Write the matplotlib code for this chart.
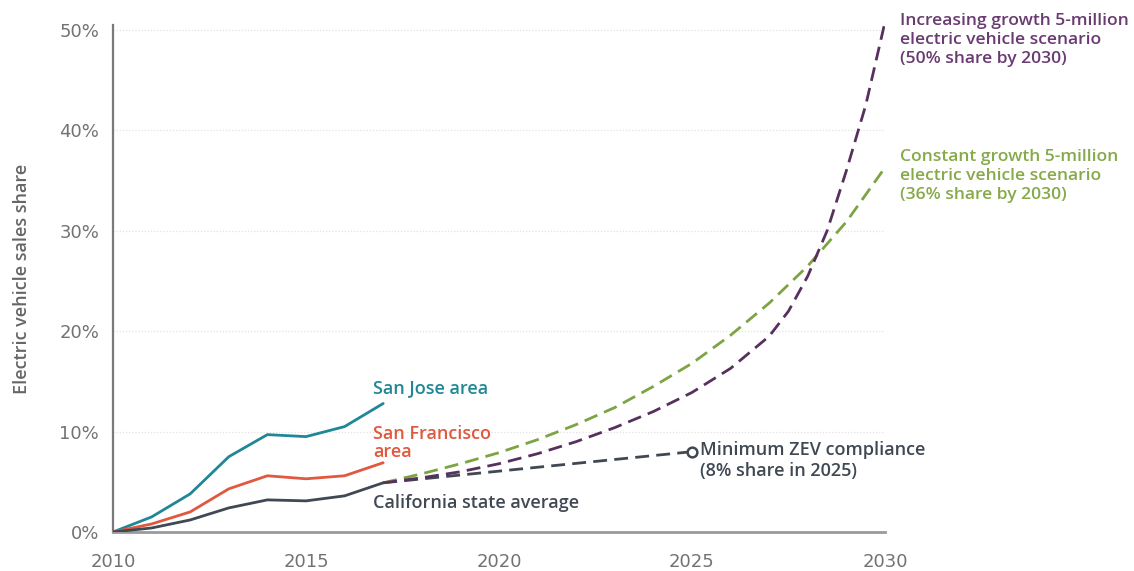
import matplotlib
matplotlib.use("Agg")
import matplotlib.pyplot as plt
from matplotlib.ticker import FuncFormatter

plt.rcParams["font.family"] = ["Open Sans", "DejaVu Sans"]

# Historical electric vehicle sales share (%)
hist_years = [2010, 2011, 2012, 2013, 2014, 2015, 2016, 2017]
san_jose = [0.0, 1.5, 3.8, 7.5, 9.7, 9.5, 10.5, 12.8]
san_francisco = [0.0, 0.8, 2.0, 4.3, 5.6, 5.3, 5.6, 6.9]
california = [0.0, 0.4, 1.2, 2.4, 3.2, 3.1, 3.6, 4.9]

# Minimum ZEV compliance path
zev_years = [2017, 2025]
zev_share = [4.9, 8.0]

# Constant growth 5-million scenario
const_years = [2017, 2018, 2019, 2020, 2021, 2022, 2023, 2024, 2025, 2026,
               2027, 2028, 2029, 2030]
const_share = [4.9, 5.8, 6.8, 7.9, 9.2, 10.7, 12.4, 14.5, 16.8, 19.6,
               22.8, 26.5, 30.9, 36.3]

# Increasing growth 5-million scenario
incr_years = [2017, 2018, 2019, 2020, 2021, 2022, 2023, 2024, 2025, 2026,
              2027, 2027.5, 2028, 2028.5, 2029, 2029.5, 2030]
incr_share = [4.9, 5.4, 6.0, 6.8, 7.8, 9.0, 10.4, 12.0, 13.9, 16.3,
              19.5, 22.0, 25.5, 30.0, 36.0, 42.5, 50.8]

x_ticks = [2010, 2015, 2020, 2025, 2030]
y_ticks = [0, 10, 20, 30, 40, 50]

C_TEAL = "#1f8795"
C_RED = "#e0583d"
C_DARK = "#3f4853"
C_PURPLE = "#57305e"
C_GREEN = "#7da443"
C_TICK = "#727272"

fig = plt.figure(figsize=(11.34, 5.71), dpi=100)
ax = fig.add_axes([113 / 1134, 1 - 532 / 571, (885 - 113) / 1134, (532 - 25) / 571])

ax.set_xlim(2010, 2030)
ax.set_ylim(0, 50.5)

for g in [10, 20, 30, 40, 50]:
    ax.axhline(g, color="#e2e2e2", lw=0.9, ls=(0, (1, 1.5)), zorder=0)

dash = (0, (5, 2.6))
ax.plot(zev_years, zev_share, color=C_DARK, lw=2.0, ls=dash, zorder=3)
ax.plot(const_years, const_share, color=C_GREEN, lw=2.0, ls=dash, zorder=3)
ax.plot(incr_years, incr_share, color=C_PURPLE, lw=2.0, ls=dash, zorder=3)
ax.plot([zev_years[-1]], [zev_share[-1]], marker="o", ms=7, mfc="white",
        mec=C_DARK, mew=1.8, zorder=5)

ax.plot(hist_years, san_jose, color=C_TEAL, lw=2.0, zorder=4, solid_capstyle="round")
ax.plot(hist_years, san_francisco, color=C_RED, lw=2.0, zorder=4, solid_capstyle="round")
ax.plot(hist_years, california, color=C_DARK, lw=2.0, zorder=4, solid_capstyle="round")

for side in ["top", "right"]:
    ax.spines[side].set_visible(False)
ax.spines["left"].set_color("#7a7a7a")
ax.spines["left"].set_linewidth(1.6)
ax.spines["bottom"].set_color("#9a9a9a")
ax.spines["bottom"].set_linewidth(2.0)

ax.set_xticks(x_ticks)
ax.set_yticks(y_ticks)
ax.yaxis.set_major_formatter(FuncFormatter(lambda v, p: f"{int(v)}%"))
ax.tick_params(axis="both", length=0, labelsize=13, labelcolor=C_TICK)
for lab in ax.get_xticklabels() + ax.get_yticklabels():
    lab.set_family("DejaVu Sans")
ax.tick_params(axis="y", pad=10)
ax.tick_params(axis="x", pad=15)

ax.set_ylabel("Electric vehicle sales share", fontsize=13, color="#666666",
              fontweight="semibold", labelpad=20)

txt = dict(fontsize=13, fontweight="semibold", va="center", ha="left",
           linespacing=1.25, clip_on=False)
ax.text(2016.74, 14.3, "San Jose area", color=C_TEAL, **txt)
ax.text(2016.74, 8.85, "San Francisco\narea", color=C_RED,
        **{**txt, "linespacing": 0.95})
ax.text(2016.74, 2.85, "California state average", color=C_DARK, **txt)
ax.text(2025.22, 7.1, "Minimum ZEV compliance\n(8% share in 2025)", color=C_DARK, **txt)
ax.text(2030.4, 49.0, "Increasing growth 5-million\nelectric vehicle scenario\n(50% share by 2030)",
        color="#6a3b72", **{**txt, "fontsize": 12.6})
ax.text(2030.4, 35.5, "Constant growth 5-million\nelectric vehicle scenario\n(36% share by 2030)",
        color="#86aa4a", **{**txt, "fontsize": 12.6})

fig.savefig("out.png", dpi=100)
